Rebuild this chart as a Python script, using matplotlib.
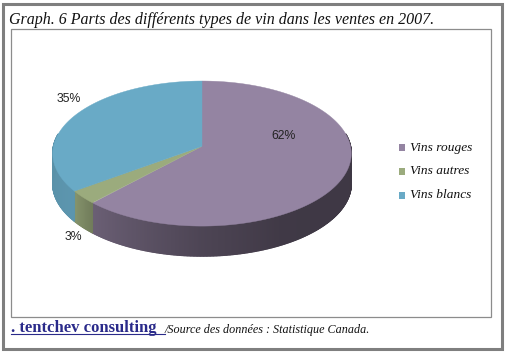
import numpy as np
import matplotlib
matplotlib.use("Agg")
import matplotlib.pyplot as plt
from matplotlib.collections import PolyCollection
from matplotlib.patches import Polygon, Rectangle

labels = ["Vins rouges", "Vins autres", "Vins blancs"]
shares = [62, 3, 35]
pct_labels = ["62%", "3%", "35%"]
top_colors = ["#9484a2", "#9bab7d", "#69aac6"]
title = "Graph. 6 Parts des différents types de vin dans les ventes en 2007."
brand = ". tentchev consulting"
source = "/Source des données : Statistique Canada."

# pie geometry in image pixels
CX, CY = 202, 146.3
RX, RY = 148.5, 71.8
PERSP = 0.1
DEPTH = 30


def rim(angle):
    # angle in degrees, clockwise from the top of the pie
    a = np.radians(angle)
    u, v = np.sin(a), np.cos(a)
    w = 1 / (1 + PERSP * v)
    return CX + RX * u * w, CY - RY * v * w


def shade(color, f):
    return tuple(c * f for c in matplotlib.colors.to_rgb(color))


def side_factor(angle):
    # dark on the right and front, lighter going round to the left
    return np.interp(angle, [90, 150, 180, 223, 235, 270], [0.42, 0.43, 0.52, 0.72, 0.88, 0.85])


fig = plt.figure(figsize=(5.06, 3.52), dpi=100)
ax = fig.add_axes([0, 0, 1, 1])
ax.set_xlim(0, 506)
ax.set_ylim(352, 0)
ax.axis("off")

ax.add_patch(Rectangle((3.5, 3.5), 499, 345.5, fc="white", ec="#7f7f7f", lw=2.2))
ax.add_patch(Rectangle((11.5, 28.5), 480, 288, fc="white", ec="#8c8c8c", lw=0.9))

bounds = np.cumsum([0] + shares) * 3.6

# side wall, only the front part of the rim is visible
for i, col in enumerate(top_colors):
    angs = np.arange(bounds[i], bounds[i + 1] + 0.5, 0.5)
    angs = angs[(angs >= 80) & (angs <= 280)]
    quads, cols = [], []
    for a0, a1 in zip(angs[:-1], angs[1:]):
        x0, y0 = rim(a0)
        x1, y1 = rim(a1)
        quads.append([(x0, y0), (x1, y1), (x1, y1 + DEPTH), (x0, y0 + DEPTH)])
        cols.append(shade(col, side_factor((a0 + a1) / 2)))
    ax.add_collection(PolyCollection(quads, facecolors=cols, edgecolors=cols, linewidths=1.0))

# top face
for i, col in enumerate(top_colors):
    angs = np.arange(bounds[i], bounds[i + 1] + 0.5, 1.0)
    pts = [(CX, CY)] + [rim(a) for a in angs]
    ax.add_patch(Polygon(pts, closed=True, fc=col, ec=col, lw=0.3))

serif = "Liberation Serif"
ax.text(9, 24, title, family=serif, style="italic", fontsize=11.5, color="#111111", va="baseline")

sans = "Liberation Sans"
ax.text(284, 136, pct_labels[0], family=sans, fontsize=8.8, ha="center", va="center", color="#222222")
ax.text(73, 237, pct_labels[1], family=sans, fontsize=8.8, ha="center", va="center", color="#222222")
ax.text(69, 99, pct_labels[2], family=sans, fontsize=8.8, ha="center", va="center", color="#222222")

for y, lab, col in zip([147.5, 171, 195], labels, top_colors):
    ax.add_patch(Rectangle((399, y - 3.5), 6.5, 7, fc=col, ec="none"))
    ax.text(410, y, lab, family=serif, style="italic", fontsize=9.6, va="center", color="#111111")

ax.text(11, 331.5, brand, family=serif, weight="bold", fontsize=12, color="#2a2a8a", va="baseline")
ax.plot([11, 165], [333.8, 333.8], color="#2a2a8a", lw=0.8)
ax.text(165, 333, source, family=serif, style="italic", fontsize=8.7, color="#111111", va="baseline")

fig.savefig("out.png", dpi=100)
